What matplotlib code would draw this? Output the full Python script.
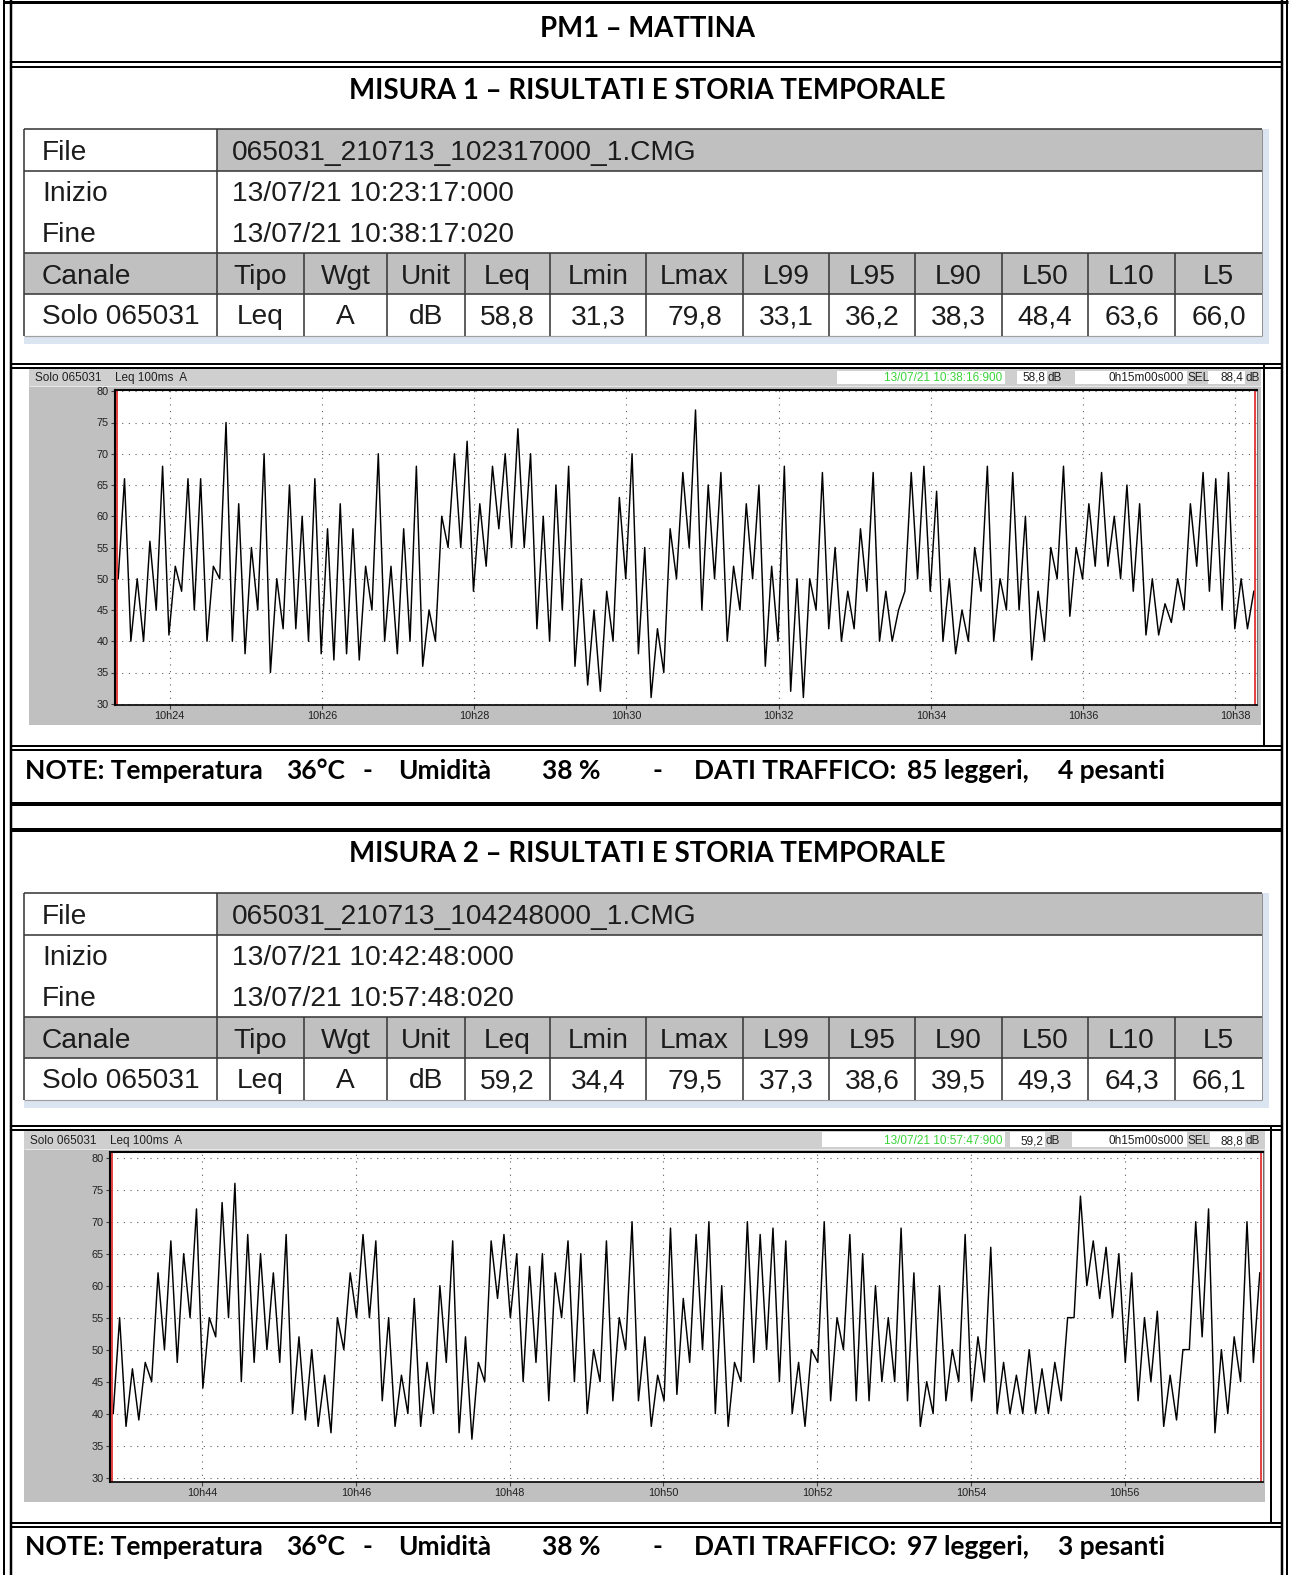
import matplotlib
matplotlib.use('Agg')
import matplotlib.pyplot as plt
from matplotlib.patches import Rectangle
import numpy as np

W, H = 1289, 1575

# ---- dati ----
titolo = 'PM1 – MATTINA'
col_head = ['Canale', 'Tipo', 'Wgt', 'Unit', 'Leq', 'Lmin', 'Lmax', 'L99', 'L95', 'L90', 'L50', 'L10', 'L5']

m1_titolo = 'MISURA 1 – RISULTATI E STORIA TEMPORALE'
m1_file = '065031_210713_102317000_1.CMG'
m1_inizio = '13/07/21 10:23:17:000'
m1_fine = '13/07/21 10:38:17:020'
m1_row = ['Solo 065031', 'Leq', 'A', 'dB', '58,8', '31,3', '79,8', '33,1', '36,2', '38,3', '48,4', '63,6', '66,0']
m1_start = '10:23:17'
m1_cursore = '13/07/21 10:38:16:900'
m1_leq = '58,8'
m1_sel = '88,4'
m1_note = ['36°C', '38 %', '85 leggeri,', '4 pesanti']
# livello min / max (dB) per ogni intervallo di 10 s
m1_lo = [50, 40, 40, 45, 41, 48, 45, 40, 50, 40,
         38, 45, 35, 42, 42, 40, 38, 37, 38, 37,
         45, 40, 38, 40, 36, 40, 55, 55, 48, 52,
         58, 55, 55, 42, 40, 45, 36, 33, 32, 40,
         50, 38, 31, 35, 50, 55, 45, 50, 40, 45,
         50, 36, 40, 32, 31, 45, 42, 40, 42, 48,
         40, 40, 48, 50, 48, 40, 38, 40, 48, 40,
         45, 45, 37, 40, 50, 44, 50, 52, 52, 50,
         48, 41, 41, 43, 45, 52, 48, 45, 42, 42]
m1_hi = [66, 50, 56, 68, 52, 66, 66, 52, 75, 62,
         55, 70, 50, 65, 60, 66, 58, 62, 58, 52,
         70, 52, 58, 68, 45, 60, 70, 72, 62, 68,
         70, 74, 70, 60, 65, 68, 50, 45, 48, 63,
         70, 55, 42, 58, 67, 77, 65, 67, 52, 62,
         65, 52, 68, 50, 50, 67, 55, 48, 58, 67,
         48, 45, 67, 68, 64, 50, 45, 55, 68, 50,
         67, 60, 48, 55, 68, 55, 62, 67, 60, 65,
         62, 50, 46, 50, 62, 67, 66, 67, 50, 48]

m2_titolo = 'MISURA 2 – RISULTATI E STORIA TEMPORALE'
m2_file = '065031_210713_104248000_1.CMG'
m2_inizio = '13/07/21 10:42:48:000'
m2_fine = '13/07/21 10:57:48:020'
m2_row = ['Solo 065031', 'Leq', 'A', 'dB', '59,2', '34,4', '79,5', '37,3', '38,6', '39,5', '49,3', '64,3', '66,1']
m2_start = '10:42:48'
m2_cursore = '13/07/21 10:57:47:900'
m2_leq = '59,2'
m2_sel = '88,8'
m2_note = ['36°C', '38 %', '97 leggeri,', '3 pesanti']
m2_lo = [40, 38, 39, 45, 50, 48, 55, 44, 52, 55,
         45, 48, 50, 48, 40, 39, 38, 37, 50, 55,
         55, 42, 38, 40, 38, 40, 48, 37, 36, 45,
         58, 55, 45, 48, 42, 55, 45, 40, 45, 42,
         50, 42, 38, 42, 43, 48, 50, 40, 38, 45,
         48, 50, 45, 40, 38, 48, 42, 50, 42, 42,
         45, 45, 42, 38, 40, 42, 45, 42, 45, 40,
         40, 40, 40, 40, 42, 55, 60, 58, 55, 48,
         42, 45, 38, 39, 50, 52, 37, 40, 45, 48]
m2_hi = [55, 47, 48, 62, 67, 65, 72, 55, 73, 76,
         68, 65, 62, 68, 52, 50, 46, 55, 62, 68,
         67, 55, 46, 58, 48, 60, 67, 52, 48, 67,
         68, 65, 63, 65, 62, 67, 65, 50, 67, 55,
         70, 52, 46, 69, 58, 68, 70, 60, 48, 70,
         68, 69, 67, 48, 50, 70, 55, 68, 65, 60,
         55, 69, 62, 45, 60, 50, 68, 52, 66, 48,
         46, 50, 47, 48, 55, 74, 67, 66, 65, 62,
         55, 56, 46, 50, 70, 72, 50, 52, 70, 62]

# ---- stile ----
plt.rcParams['font.family'] = ['Liberation Sans', 'DejaVu Sans']
GRIGIO = '#c0c0c0'
BORDO = '#3a3a3a'
AZZURRO = '#dbe5f1'
TESTO = '#1c1c1c'
TITOLI = ['Lato', 'DejaVu Sans']

fig = plt.figure(figsize=(W / 100, H / 100), dpi=100)
can = fig.add_axes([0, 0, 1, 1])
can.set_xlim(0, W)
can.set_ylim(H, 0)
can.axis('off')
r = fig.canvas.get_renderer()


def linea(x0, y0, x1, y1, px=2, c='black'):
    can.plot([x0, x1], [y0, y1], color=c, lw=px * 0.72, solid_capstyle='butt')


def scritta(x, y, s, larg=None, **kw):
    t = can.text(x, y, s, **kw)
    if larg:
        w = t.get_window_extent(renderer=r).width
        t.set_fontsize(t.get_fontsize() * larg / w)
    return t


def rett(x0, y0, x1, y1, c):
    can.add_patch(Rectangle((x0, y0), x1 - x0, y1 - y0, fc=c, ec='none'))


# ---- cornice della pagina ----
XL1, XL2, XR1, XR2 = 4, 10.5, 1281.5, 1287
for x, w in [(XL1, 2), (XL2, 2.5), (XR1, 2.5), (XR2, 2)]:
    linea(x, 0, x, H, w)
linea(XL1 - 1, 1.5, XR2 + 1, 1.5, 3)
for y in [62, 66.5, 363.5, 368, 745.5, 750, 1125.5, 1130, 1522.5, 1527]:
    linea(XL2, y, XR1, y, 2)
for y in [804, 829.5]:
    linea(XL2, y, XR1, y, 4)

scritta(647, 37, titolo, larg=215, fontsize=20, family=TITOLI, weight='bold',
        ha='center', va='baseline', color='black')

# ---- tabelle ----
COLS = [24, 217, 304, 387, 465, 550, 646, 743, 829, 915, 1002, 1088, 1175, 1262]
fs_tab = [None]


def tabella(y0, file, inizio, fine, row):
    ys = [y0, y0 + 42, y0 + 124, y0 + 165, y0 + 207]
    x0, x1 = COLS[0], COLS[-1]
    rett(COLS[1], ys[0], x1, ys[1], GRIGIO)
    rett(x0, ys[2], x1, ys[3], GRIGIO)
    rett(x0, ys[4] + 1, x1 + 7, ys[4] + 8, AZZURRO)
    rett(x1 + 1, y0, x1 + 7, ys[4] + 8, AZZURRO)
    for y in ys[:4]:
        linea(x0, y, x1, y, 1.6, BORDO)
    linea(x0, ys[4], x1, ys[4], 1.2, '#a0a0a0')
    linea(x1, y0, x1, ys[4], 1.0, '#909090')
    linea(x0, y0, x0, ys[4], 1.6, BORDO)
    linea(COLS[1], y0, COLS[1], ys[4], 1.6, BORDO)
    for x in COLS[2:-1]:
        linea(x, ys[2], x, ys[4], 1.6, BORDO)
    kw = dict(color=TESTO, va='baseline')
    if fs_tab[0] is None:
        t = scritta(232, y0 + 31, file, larg=465, fontsize=20, **kw)
        fs_tab[0] = t.get_fontsize()
    else:
        scritta(232, y0 + 31, file, fontsize=fs_tab[0], **kw)
    kw['fontsize'] = fs_tab[0]
    scritta(42, y0 + 31, 'File', **kw)
    scritta(42, y0 + 72, 'Inizio', **kw)
    scritta(232, y0 + 72, inizio, **kw)
    scritta(42, y0 + 113, 'Fine', **kw)
    scritta(232, y0 + 113, fine, **kw)
    for i, (h, v) in enumerate(zip(col_head, row)):
        if i == 0:
            scritta(42, y0 + 155, h, **kw)
            scritta(42, y0 + 195, v, **kw)
        else:
            xc = (COLS[i] + COLS[i + 1]) / 2
            scritta(xc, y0 + 155, h, ha='center', **kw)
            scritta(xc, y0 + 195, v, ha='center', **kw)


# ---- grafici ----
def grafico(box, panel, bar, lo, hi, start, cursore, leq, sel, ylim, head_x, boxes, right_line):
    px0, py0, px1, py1 = panel
    rett(px0, py0, px1, py1, GRIGIO)
    rett(px0, bar[0], px1, bar[1], '#cfcfcf')
    linea(px0, bar[1], px1, bar[1], 1, '#e8e8e8')
    linea(right_line[0], right_line[1], right_line[0], right_line[2], 2)
    for bx0, bx1 in boxes:
        rett(bx0, bar[0] + 1.5, bx1, bar[1] - 2, 'white')
    yb = bar[1] - 5
    t = scritta(head_x, yb, 'Solo 065031', larg=66, fontsize=8, color='#202020', va='baseline')
    fs = t.get_fontsize()
    kw = dict(fontsize=fs, color='#202020', va='baseline')
    scritta(head_x + 80, yb, 'Leq 100ms  A', **kw)
    scritta(boxes[0][1] - 3, yb, cursore, ha='right', **dict(kw, color='#3ad43a'))
    scritta(boxes[1][1] - 2, yb, leq, ha='right', **kw)
    scritta(boxes[1][1] + 1, yb, 'dB', **kw)
    scritta(boxes[2][1] - 3, yb, '0h15m00s000', ha='right', **kw)
    scritta(boxes[2][1] + 1, yb, 'SEL', **kw)
    scritta(boxes[3][1] - 2, yb, sel, ha='right', **kw)
    scritta(boxes[3][1] + 1, yb, 'dB', **kw)

    x0, y0, x1, y1 = box
    ax = fig.add_axes([x0 / W, 1 - y1 / H, (x1 - x0) / W, (y1 - y0) / H])
    ax.set_facecolor('white')
    n = len(lo)
    t = np.ravel(np.column_stack([np.arange(n) * 10 + 2.5, np.arange(n) * 10 + 7.5]))
    y = np.ravel(np.column_stack([lo, hi]))
    ax.plot(t, y, color='black', lw=1.05)
    ax.axvline(1.2, color='#e02020', lw=1.2)
    ax.axvline(898.8, color='#e02020', lw=1.2)
    ax.set_xlim(0, 900)
    ax.set_ylim(*ylim)

    h, m, s = map(int, start.split(':'))
    s0 = h * 3600 + m * 60 + s
    ticks, labels = [], []
    mm = (s0 // 120 + 1) * 120
    while mm - s0 < 900:
        ticks.append(mm - s0)
        labels.append(f'{mm // 3600}h{(mm % 3600) // 60:02d}')
        mm += 120
    ax.set_xticks(ticks, labels)
    ax.set_yticks(range(30, 81, 5))
    ax.tick_params(axis='both', direction='out', length=3, width=0.8, pad=1.5,
                   labelsize=7.8, labelcolor='#202020', color='#404040')
    ax.grid(True, color='#606060', lw=0.8, ls=(0, (1, 5)))
    for sp in ['left', 'top']:
        ax.spines[sp].set_linewidth(1.5)
    ax.spines['bottom'].set_linewidth(1.2)
    ax.spines['right'].set_linewidth(0.8)
    ax.spines['right'].set_color('#707070')
    return ax


def note(yb, vals):
    kw = dict(family=TITOLI, weight='bold', color='black', va='baseline')
    t = scritta(25, yb, 'NOTE: Temperatura', larg=239, fontsize=16, **kw)
    kw['fontsize'] = t.get_fontsize()
    scritta(286, yb, vals[0], **kw)
    scritta(362, yb, '-', **kw)
    scritta(398, yb, 'Umidità', **kw)
    scritta(542, yb, vals[1], **kw)
    scritta(653, yb, '-', **kw)
    scritta(694, yb, 'DATI TRAFFICO:', **kw)
    scritta(907, yb, vals[2], **kw)
    scritta(1058, yb, vals[3], **kw)


# misura 1
scritta(647, 99, m1_titolo, larg=596, fontsize=20, family=TITOLI, weight='bold',
        ha='center', va='baseline', color='black')
tabella(129, m1_file, m1_inizio, m1_fine, m1_row)
grafico((115, 390, 1257, 705), (29, 369, 1261, 725), (369, 386), m1_lo, m1_hi, m1_start,
        m1_cursore, m1_leq, m1_sel, (29.8, 80.2), 35,
        [(837, 1005), (1017, 1047), (1075, 1187), (1208, 1245)], (1264, 363, 746))
note(779, m1_note)

# misura 2
scritta(647, 862, m2_titolo, larg=596, fontsize=20, family=TITOLI, weight='bold',
        ha='center', va='baseline', color='black')
tabella(893, m2_file, m2_inizio, m2_fine, m2_row)
grafico((110, 1152, 1263, 1482), (24, 1130, 1265, 1502), (1130, 1149), m2_lo, m2_hi, m2_start,
        m2_cursore, m2_leq, m2_sel, (29.3, 80.9), 30,
        [(822, 1005), (1010, 1045), (1072, 1187), (1210, 1245)], (1271, 1125, 1523))
note(1555, m2_note)

fig.savefig('out.png', dpi=100)
